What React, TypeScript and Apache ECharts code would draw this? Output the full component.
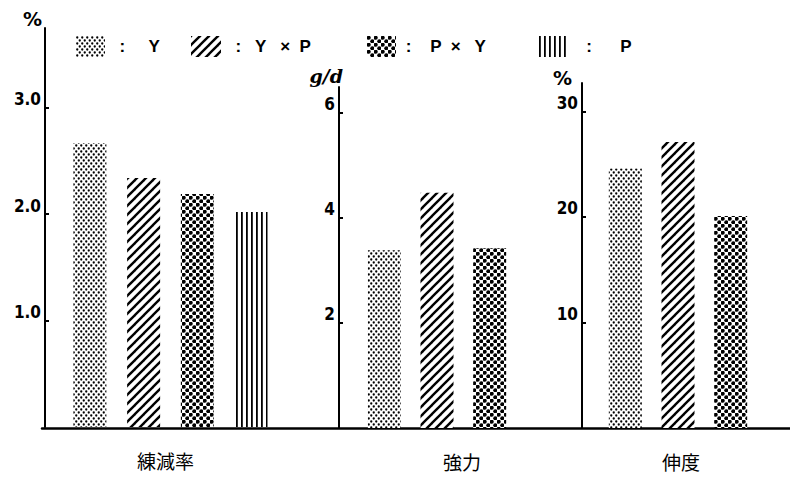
import React, { useEffect, useRef } from 'react';
import * as echarts from 'echarts';

// ---- data ----
const genotypes = ['Y', 'Y×P', 'P×Y', 'P'];
const legendLabels = ['  :     Y', '  :   Y   ×  P', ' :    P  ×   Y', '   :      P'];
const panelTitles = ['練減率', '強力', '伸度'];
const unitNames = ['%', 'g/d', '%'];
const scouringLoss = [2.67, 2.34, 2.19, 2.02]; // 練減率 %
const strength = [3.38, 4.47, 3.42]; // 強力 g/d
const elongation = [24.6, 27.1, 20.1]; // 伸度 %
const ticks1 = [1, 2, 3];
const ticks2 = [2, 4, 6];
const ticks3 = [10, 20, 30];

const numFont = '"Liberation Sans Narrow","DejaVu Sans Condensed",sans-serif';

function makeTile(kind: string): HTMLCanvasElement {
  const c = document.createElement('canvas');
  const ctx = c.getContext('2d') as CanvasRenderingContext2D;
  const dot = (x: number, y: number, r: number) => {
    ctx.beginPath();
    ctx.arc(x, y, r, 0, Math.PI * 2);
    ctx.fill();
  };
  if (kind === 'fine') {
    c.width = 5; c.height = 6;
    ctx.fillStyle = '#fff'; ctx.fillRect(0, 0, 5, 6);
    ctx.fillStyle = '#000';
    dot(1.25, 1.5, 1.15); dot(3.75, 4.5, 1.15);
  } else if (kind === 'hatch') {
    const s = 9;
    c.width = s; c.height = s;
    ctx.fillStyle = '#fff'; ctx.fillRect(0, 0, s, s);
    ctx.strokeStyle = '#000'; ctx.lineWidth = 2.4;
    const seg = (x1: number, y1: number, x2: number, y2: number) => {
      ctx.beginPath(); ctx.moveTo(x1, y1); ctx.lineTo(x2, y2); ctx.stroke();
    };
    seg(-1, s + 1, s + 1, -1);
    seg(-s / 2 - 1, s / 2 + 1, s / 2 + 1, -s / 2 - 1);
    seg(s / 2 - 1, 1.5 * s + 1, 1.5 * s + 1, s / 2 - 1);
  } else if (kind === 'coarse') {
    c.width = 7; c.height = 7;
    ctx.fillStyle = '#fff'; ctx.fillRect(0, 0, 7, 7);
    ctx.fillStyle = '#000';
    dot(1.75, 1.75, 2.0); dot(5.25, 5.25, 2.0);
  } else {
    c.width = 5; c.height = 2;
    ctx.fillStyle = '#fff'; ctx.fillRect(0, 0, 5, 2);
    ctx.fillStyle = '#000'; ctx.fillRect(1, 0, 1.8, 2);
  }
  return c;
}

export default function App() {
  const ref = useRef<HTMLDivElement>(null);
  useEffect(() => {
    if (!ref.current) return;
    const chart = echarts.init(ref.current, undefined, { renderer: 'svg' });
    const kinds = ['fine', 'hatch', 'coarse', 'vertical'];
    const patterns = kinds.map((k) => ({ image: makeTile(k), repeat: 'repeat' }));

    const panels = [scouringLoss, strength, elongation];
    const grids = [
      { left: 63, width: 215, top: 28, height: 399 },
      { left: 358, width: 158, top: 87, height: 341 },
      { left: 599, width: 158, top: 83, height: 345 },
      { left: 42, right: 0, top: 28, height: 400 },
    ].map((g) => ({ ...g, containLabel: false, outerBoundsMode: 'none' }));
    const yMax = [3.75, 6.48, 32.7];
    const yOffsets = [18, 19, 17];
    const tickSets = [ticks1, ticks2, ticks3];
    const nameStyles: any[] = [
      { fontSize: 19, fontWeight: 'bold', fontFamily: 'DejaVu Sans', align: 'right', verticalAlign: 'bottom', padding: [0, 3, 0, 0] },
      { fontSize: 19, fontWeight: 'bold', fontStyle: 'italic', fontFamily: '"DejaVu Serif",serif', align: 'right', verticalAlign: 'bottom', padding: [0, -4, 0, 0] },
      { fontSize: 19, fontWeight: 'bold', fontFamily: 'DejaVu Sans', align: 'right', verticalAlign: 'bottom', padding: [0, 10, 0, 0] },
    ];
    const nameGaps = [0, 2, -4];
    const titlePads = [[0, 10, 0, 0], [0, 0, 0, 50], [0, 0, 0, 6]];

    const xAxis: any[] = panels.map((vals, p) => ({
      type: 'category',
      gridIndex: p,
      data: genotypes.slice(0, vals.length),
      axisLine: { show: false },
      axisTick: { show: false },
      axisLabel: { show: false },
      name: panelTitles[p],
      nameLocation: 'middle',
      nameGap: 24,
      nameTextStyle: {
        fontSize: 19,
        color: '#000',
        fontFamily: '"Noto Sans CJK JP",sans-serif',
        padding: titlePads[p],
      },
    }));
    xAxis.push({
      type: 'value', gridIndex: 3, min: 0, max: 1,
      axisLine: { show: true, onZero: false, lineStyle: { color: '#000', width: 2.5 } },
      axisTick: { show: false }, axisLabel: { show: false }, splitLine: { show: false },
    });

    const yAxis: any[] = panels.map((_, p) => ({
      type: 'value',
      gridIndex: p,
      min: 0,
      max: yMax[p],
      offset: yOffsets[p],
      name: unitNames[p],
      nameLocation: 'end',
      nameGap: nameGaps[p],
      nameTextStyle: { color: '#000', ...nameStyles[p] },
      axisLine: { show: true, lineStyle: { color: '#000', width: 2 } },
      axisTick: { show: true, inside: true, length: 4, customValues: tickSets[p], lineStyle: { color: '#000', width: 2 } },
      axisLabel: {
        customValues: tickSets[p],
        formatter: (v: number) => (p === 0 ? v.toFixed(1) : String(v)),
        color: '#000',
        fontSize: 17,
        fontWeight: 'bold',
        fontFamily: numFont,
        margin: 4,
        verticalAlign: 'bottom',
      },
      splitLine: { show: false },
    }));
    yAxis.push({ type: 'value', gridIndex: 3, show: false, min: 0, max: 1 });

    const series: any[] = [];
    panels.forEach((vals, p) => {
      vals.forEach((v, g) => {
        series.push({
          name: genotypes[g],
          type: 'bar',
          xAxisIndex: p,
          yAxisIndex: p,
          data: vals.map((_, i) => (i === g ? v : '-')),
          barWidth: 33,
          barGap: '-100%',
          itemStyle: { color: patterns[g] },
        });
      });
    });

    const legendLefts = [76, 191, 367, 538];
    const legend = genotypes.map((g, i) => ({
      data: [g],
      left: legendLefts[i],
      top: 36,
      padding: 0,
      itemWidth: i === 1 ? 30 : 29,
      itemHeight: 21,
      selectedMode: false,
      icon: 'rect',
      formatter: () => legendLabels[i],
      textStyle: { color: '#000', fontSize: 17, fontWeight: 'bold', fontFamily: '"Liberation Sans",sans-serif' },
    }));

    chart.setOption({
      animation: false,
      backgroundColor: '#fff',
      grid: grids,
      xAxis,
      yAxis,
      legend,
      series,
    });
    return () => chart.dispose();
  }, []);
  return <div ref={ref} style={{ position: 'absolute', left: 0, top: 0, width: 790, height: 480 }} />;
}
